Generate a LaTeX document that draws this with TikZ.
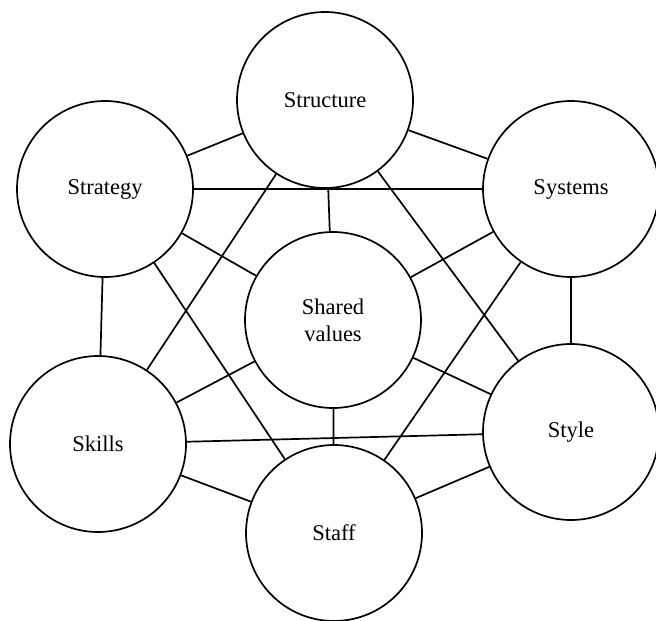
\documentclass[tikz,border=0pt]{standalone}
\usepackage{fontspec}
\setmainfont{Liberation Serif}
\usetikzlibrary{positioning}

\begin{document}
\begin{tikzpicture}[x=1pt, y=-1pt,
	factor/.style={circle, draw, line width=1.7pt, minimum size=176pt, inner sep=0pt,
		align=center, font=\fontsize{22.5}{27}\selectfont},
	link/.style={line width=1.7pt}]
	\useasboundingbox (0,0) rectangle (656,621);
	% Draw the seven factors
	\node[factor] (structure) at (325,100) {Structure};
	\node[factor] (strategy)  at (105,189) {Strategy};
	\node[factor] (systems)   at (571,189) {Systems};
	\node[factor] (shared)    at (333,320) {Shared\\values};
	\node[factor] (skills)    at (98,444)  {Skills};
	\node[factor] (style)     at (571,432) {Style};
	\node[factor] (staff)     at (334,533) {Staff};
	% Connect the factors
	\draw[link]
		(strategy) edge (structure)
		(structure) edge (systems)
		(strategy) edge (systems)
		(structure) edge (shared)
		(strategy) edge (shared)
		(systems) edge (shared)
		(structure) edge (skills)
		(structure) edge (style)
		(strategy) edge (skills)
		(strategy) edge (staff)
		(systems) edge (staff)
		(systems) edge (style)
		(skills) edge (shared)
		(style) edge (shared)
		(skills) edge (style)
		(shared) edge (staff)
		(skills) edge (staff)
		(style) edge (staff);
\end{tikzpicture}
\end{document}
